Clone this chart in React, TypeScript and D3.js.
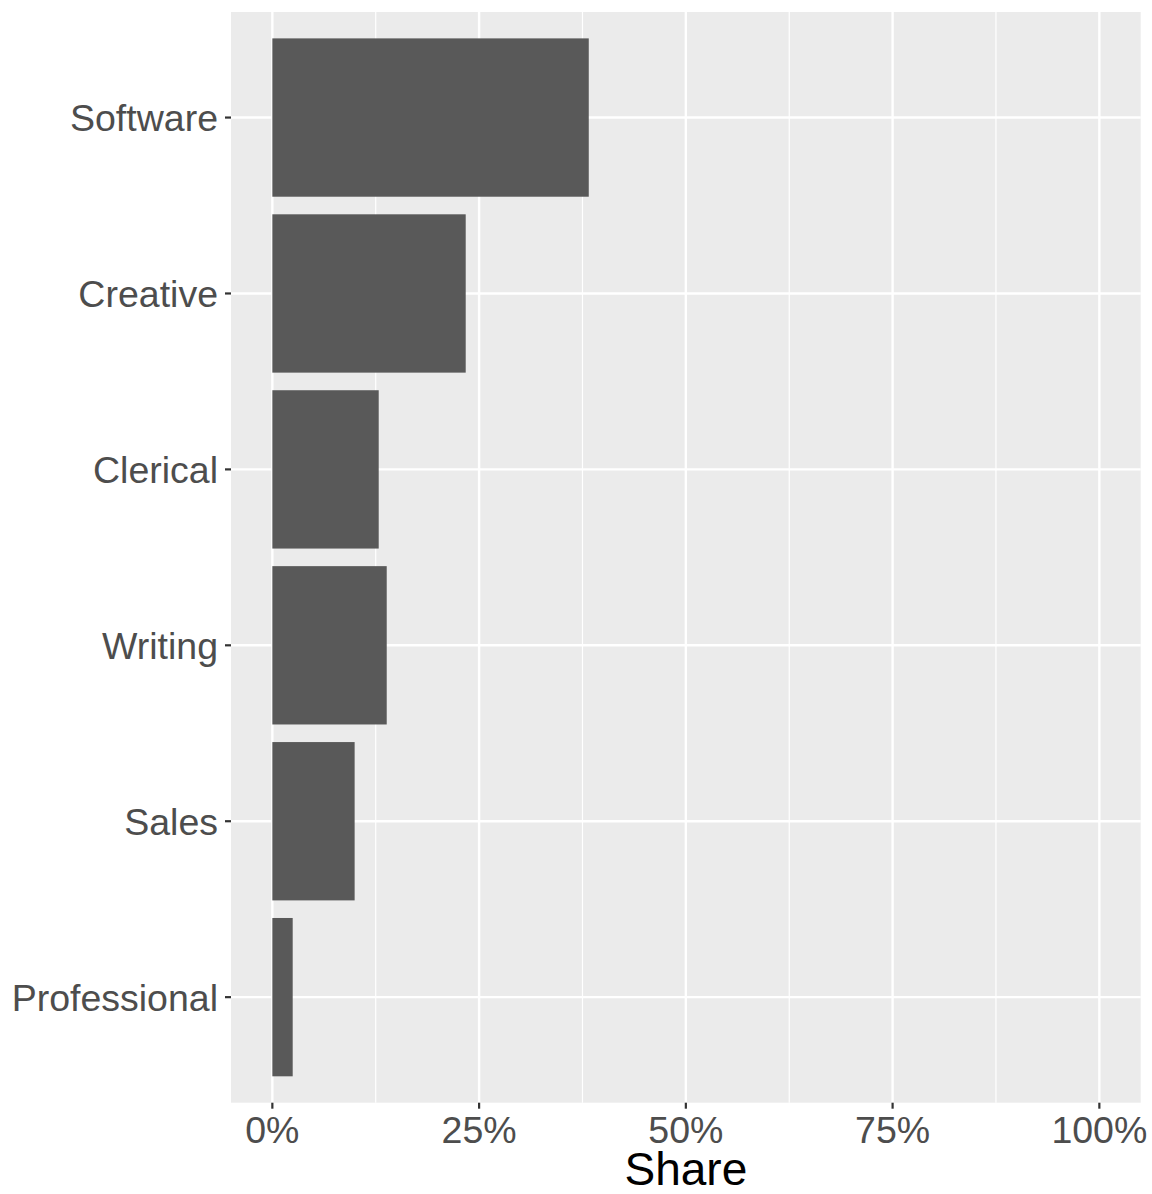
import React from "react";
import * as d3 from "d3";

// categories, top to bottom as drawn
const categories = ["Software", "Creative", "Clerical", "Writing", "Sales", "Professional"];
const shares = [0.3826, 0.2338, 0.1286, 0.1383, 0.0995, 0.0246];
const xMajor = [0, 0.25, 0.5, 0.75, 1];
const xMinor = [0.125, 0.375, 0.625, 0.875];

const width = 1152;
const height = 1194;
const panel = { left: 231, top: 12, right: 1140.7, bottom: 1102.7 };

const fontFamily = "'Liberation Sans', Arial, Helvetica, sans-serif";

const App = () => {
    const x = d3.scaleLinear().domain([-0.05, 1.05]).range([panel.left, panel.right]);
    const y = d3.scalePoint().domain(categories).range([panel.top, panel.bottom]).padding(0.6);
    const barH = y.step() * 0.9;
    const fmt = d3.format(".0%");

    return (
        <svg width={width} height={height} style={{ position: "absolute", left: 0, top: 0 }}>
            <rect x={0} y={0} width={width} height={height} fill="#fff" />
            <rect
                x={panel.left}
                y={panel.top}
                width={panel.right - panel.left}
                height={panel.bottom - panel.top}
                fill="#EBEBEB"
            />
            {/* minor grid */}
            {xMinor.map((t) => (
                <line key={"mn" + t} x1={x(t)} x2={x(t)} y1={panel.top} y2={panel.bottom} stroke="#fff" strokeWidth={1.2} />
            ))}
            {/* major grid */}
            {xMajor.map((t) => (
                <line key={"mj" + t} x1={x(t)} x2={x(t)} y1={panel.top} y2={panel.bottom} stroke="#fff" strokeWidth={2.4} />
            ))}
            {categories.map((c) => (
                <line key={"gy" + c} x1={panel.left} x2={panel.right} y1={y(c)} y2={y(c)} stroke="#fff" strokeWidth={2.4} />
            ))}
            {/* bars */}
            {categories.map((c, i) => (
                <rect
                    key={"b" + c}
                    x={x(0)}
                    y={y(c)! - barH / 2}
                    width={x(shares[i]) - x(0)}
                    height={barH}
                    fill="#595959"
                />
            ))}
            {/* y axis */}
            {categories.map((c) => (
                <g key={"ya" + c}>
                    <line x1={panel.left - 6} x2={panel.left} y1={y(c)} y2={y(c)} stroke="#333" strokeWidth={2.2} />
                    <text
                        x={panel.left - 13}
                        y={y(c)}
                        dy="0.36em"
                        textAnchor="end"
                        fontSize={37.5}
                        fill="#4D4D4D"
                        fontFamily={fontFamily}
                    >
                        {c}
                    </text>
                </g>
            ))}
            {/* x axis */}
            {xMajor.map((t) => (
                <g key={"xa" + t}>
                    <line x1={x(t)} x2={x(t)} y1={panel.bottom} y2={panel.bottom + 6} stroke="#333" strokeWidth={2.2} />
                    <text
                        x={x(t)}
                        y={1142.5}
                        textAnchor="middle"
                        fontSize={37.5}
                        fill="#4D4D4D"
                        fontFamily={fontFamily}
                    >
                        {fmt(t)}
                    </text>
                </g>
            ))}
            <text
                x={(panel.left + panel.right) / 2}
                y={1185}
                textAnchor="middle"
                fontSize={46}
                fill="#000"
                fontFamily={fontFamily}
            >
                Share
            </text>
        </svg>
    );
};

export default App;
